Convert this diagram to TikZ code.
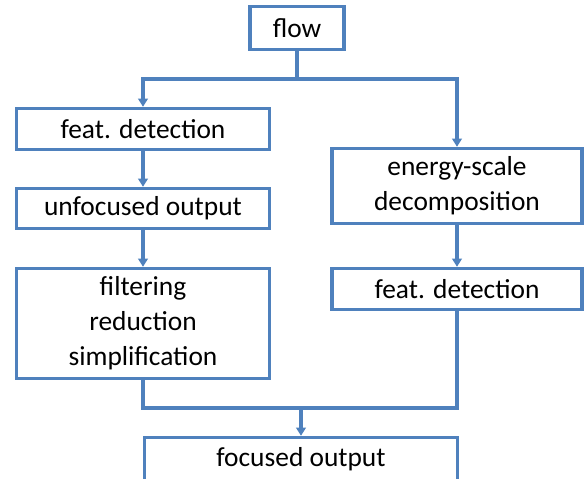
\documentclass[tikz,border=0pt]{standalone}
\usepackage{fontspec}
\setmainfont{Carlito}
\usetikzlibrary{arrows.meta}

\definecolor{boxblue}{HTML}{4F81BD}

\tikzset{
    stepbox/.style={draw=boxblue, line width=2.4pt, fill=white, align=center,
        inner sep=0pt, font=\fontsize{19.5}{24.8}\selectfont},
    flowline/.style={draw=boxblue, line width=2.4pt},
    flowarrow/.style={flowline, -{Triangle[width=6.8pt, length=5.8pt]}}
}

\begin{document}
\begin{tikzpicture}[x=0.025cm, y=-0.025cm]

    % Set the frame
    \useasboundingbox (0,0) rectangle (586,479);
    \clip (0,0) rectangle (586,479);

    % Boxes
    \node[stepbox, minimum width=2.35cm, minimum height=1.075cm] (flow) at (297,28) {flow};
    \node[stepbox, minimum width=6.325cm, minimum height=1.025cm] (featL) at (143,129) {feat. detection};
    \node[stepbox, minimum width=6.325cm, minimum height=1.0cm] (unfoc) at (143,208.5) {unfocused output};
    \node[stepbox, minimum width=6.325cm, minimum height=2.75cm] (filt) at (143,323.5) {filtering\\reduction\\simplification};
    \node[stepbox, minimum width=6.25cm, minimum height=1.875cm] (energy) at (457,186) {energy-scale\\decomposition};
    \node[stepbox, minimum width=6.25cm, minimum height=1.025cm] (featR) at (457,289) {feat. detection};
    \node[stepbox, minimum width=7.825cm, minimum height=1.1cm] (focus) at (301,459.5) {focused output};

    % Split below flow
    \coordinate (split) at (297,79);
    \draw[flowline] (flow.south) -- (split);
    \draw[flowarrow] (split) -| (featL.north);
    \draw[flowarrow] (split) -| (energy.north);

    % Left branch
    \draw[flowarrow] (featL) -- (unfoc);
    \draw[flowarrow] (unfoc) -- (filt);

    % Right branch
    \draw[flowarrow] (energy) -- (featR);

    % Merge into focused output
    \coordinate (merge) at (301,408);
    \draw[flowline] (filt.south) |- (merge);
    \draw[flowline] (featR.south) |- (merge);
    \draw[flowarrow] (merge) -- (focus.north);

\end{tikzpicture}
\end{document}
